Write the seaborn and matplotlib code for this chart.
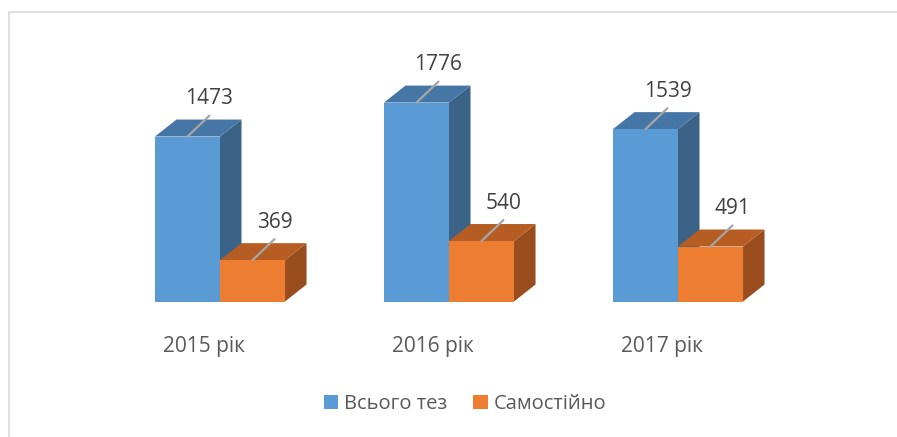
import pandas as pd
import matplotlib.pyplot as plt
import seaborn as sns
from matplotlib.patches import Polygon, Patch
from matplotlib.lines import Line2D

# data
years = ["2015 рік", "2016 рік", "2017 рік"]
total = [1473, 1776, 1539]
self_done = [369, 540, 491]
series = ["Всього тез", "Самостійно"]

df = pd.DataFrame({
    "year": years * 2,
    "value": total + self_done,
    "series": [series[0]] * 3 + [series[1]] * 3,
})

# colours: front, top, side
BLUE = ["#5B9BD5", "#4676A6", "#3A6387"]
ORANGE = ["#ED7D31", "#B55D22", "#9A4D1C"]
LABEL_COL = "#404040"
CAT_COL = "#595959"

W, H, DPI = 897, 437, 100
sns.set_theme(style="white")
plt.rcParams["font.family"] = ["Open Sans", "DejaVu Sans"]

fig = plt.figure(figsize=(W / DPI, H / DPI), dpi=DPI)
fig.patch.set_facecolor("white")

# axes placed so 1 category = 229 px, 2500 units = 280 px
x0, x1 = -0.8, 2.8
ax_left = 220 - 0.8 * 229
ax_bottom = 135.5
ax = fig.add_axes([ax_left / W, ax_bottom / H, 3.6 * 229 / W, 280 / H])
ax.set_facecolor("none")

sns.barplot(data=df, x="year", y="value", hue="series", palette=[BLUE[0], ORANGE[0]],
            width=0.568, saturation=1, ax=ax, legend=False)
ax.set_xlim(x0, x1)
ax.set_ylim(0, 2500)

px_x = 1 / 229          # data units per pixel (x)
px_y = 2500 / 280       # data units per pixel (y)
dx, dy = 21.5 * px_x, 17 * px_y

for i, bar in enumerate(ax.patches):
    cols = BLUE if i < 3 else ORANGE
    z = 2 if i < 3 else 4
    bar.set_linewidth(0)
    bar.set_zorder(z + 0.5)
    bx, bw, bh = bar.get_x(), bar.get_width(), bar.get_height()
    if bh == 0:
        continue
    side = Polygon([(bx + bw, 0), (bx + bw + dx, dy), (bx + bw + dx, bh + dy), (bx + bw, bh)],
                   closed=True, facecolor=cols[2], linewidth=0, zorder=z)
    top = Polygon([(bx, bh), (bx + bw, bh), (bx + bw + dx, bh + dy), (bx + dx, bh + dy)],
                  closed=True, facecolor=cols[1], linewidth=0, zorder=z)
    ax.add_patch(side)
    ax.add_patch(top)
    cx = bx + bw / 2
    ax.add_line(Line2D([cx, cx + 22 * px_x], [bh, bh + 21 * px_y], color="#A6A6A6",
                       linewidth=1.6, zorder=6))
    ax.text(cx + 22 * px_x, bh + 38 * px_y, f"{int(round(bh))}", ha="center", va="center",
            fontsize=15, color=LABEL_COL, zorder=7)

ax.set_xticks([i - 16 * px_x for i in range(len(years))])
ax.set_xticklabels(years, fontsize=15, color=CAT_COL)
ax.tick_params(axis="x", length=0, pad=25)
ax.set_yticks([])
ax.set_xlabel("")
ax.set_ylabel("")
for s in ax.spines.values():
    s.set_visible(False)

handles = [Patch(facecolor=BLUE[0], edgecolor="none"), Patch(facecolor=ORANGE[0], edgecolor="none")]
fig.legend(handles, series, loc="center", bbox_to_anchor=(465 / W, 33 / H), ncol=2,
           frameon=False, fontsize=14.5, labelcolor=CAT_COL, handlelength=0.7, handleheight=0.7,
           handletextpad=0.3, columnspacing=1.3)

# chart frame (top and left edges visible)
fig.add_artist(Line2D([9 / W, 1], [1 - 12 / H, 1 - 12 / H], transform=fig.transFigure,
                      color="#D9D9D9", linewidth=1.2))
fig.add_artist(Line2D([9 / W, 9 / W], [0, 1 - 12 / H], transform=fig.transFigure,
                      color="#D9D9D9", linewidth=1.2))

fig.savefig("out.png", dpi=DPI)
